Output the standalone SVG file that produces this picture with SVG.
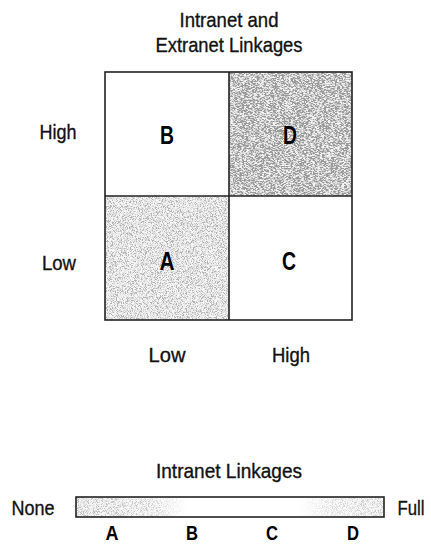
<svg xmlns="http://www.w3.org/2000/svg" width="431" height="545" viewBox="0 0 431 545">
  <style>
    .lbl { font-family: "Liberation Sans", Arial, sans-serif; font-size: 21px; fill: #111; stroke: #111; stroke-width: 0.35; }
    .cell { font-family: "Liberation Sans", Arial, sans-serif; font-size: 26px; font-weight: bold; fill: #000; text-anchor: middle; }
    .tick { font-family: "Liberation Sans", Arial, sans-serif; font-size: 21px; font-weight: bold; fill: #000; text-anchor: middle; }
    .frame { fill: none; stroke: #222; stroke-width: 1.6; }
  </style>
  <defs>
    <!-- fine stipple grain -->
    <filter id="grainA" x="0" y="0" width="100%" height="100%" filterUnits="objectBoundingBox">
      <feTurbulence type="fractalNoise" baseFrequency="1.2" numOctaves="2" seed="4" result="n"/>
      <feColorMatrix in="n" type="matrix" values="0 0 0 0 0  0 0 0 0 0  0 0 0 0 0  3 0 0 0 -1.1" result="a"/>
      <feComponentTransfer in="a" result="d">
        <feFuncA type="discrete" tableValues="0.08 0.2 0.35 0.55"/>
      </feComponentTransfer>
      <feFlood flood-color="#fff" result="w"/>
      <feMerge><feMergeNode in="w"/><feMergeNode in="d"/></feMerge>
    </filter>
    <!-- horizontal streaked grain -->
    <filter id="grainD" x="0" y="0" width="100%" height="100%" filterUnits="objectBoundingBox">
      <feTurbulence type="fractalNoise" baseFrequency="0.45 1.4" numOctaves="2" seed="9" result="n"/>
      <feColorMatrix in="n" type="matrix" values="0 0 0 0 0  0 0 0 0 0  0 0 0 0 0  3 0 0 0 -0.9" result="a"/>
      <feComponentTransfer in="a" result="d">
        <feFuncA type="discrete" tableValues="0.1 0.26 0.45 0.68"/>
      </feComponentTransfer>
      <feFlood flood-color="#fff" result="w"/>
      <feMerge><feMergeNode in="w"/><feMergeNode in="d"/></feMerge>
    </filter>
    <linearGradient id="barFade" x1="0" y1="0" x2="1" y2="0">
      <stop offset="0" stop-color="#fff" stop-opacity="0.9"/>
      <stop offset="0.26" stop-color="#fff" stop-opacity="0.6"/>
      <stop offset="0.36" stop-color="#fff" stop-opacity="0"/>
      <stop offset="0.72" stop-color="#fff" stop-opacity="0"/>
      <stop offset="0.84" stop-color="#fff" stop-opacity="0.5"/>
      <stop offset="1" stop-color="#fff" stop-opacity="0.7"/>
    </linearGradient>
    <mask id="barMask">
      <rect x="76" y="497" width="308" height="20" fill="url(#barFade)"/>
    </mask>
  </defs>

  <!-- title -->
  <g id="title">
    <text class="lbl" x="229" y="27" text-anchor="middle" textLength="99" lengthAdjust="spacingAndGlyphs">Intranet and</text>
    <text class="lbl" x="229" y="52" text-anchor="middle" textLength="147" lengthAdjust="spacingAndGlyphs">Extranet Linkages</text>
  </g>

  <!-- axis labels -->
  <g id="axis-labels">
    <text class="lbl" x="58" y="139" text-anchor="middle" textLength="37" lengthAdjust="spacingAndGlyphs">High</text>
    <text class="lbl" x="59" y="270" text-anchor="middle" textLength="34" lengthAdjust="spacingAndGlyphs">Low</text>
    <text class="lbl" x="167" y="362" text-anchor="middle" textLength="37" lengthAdjust="spacingAndGlyphs">Low</text>
    <text class="lbl" x="291" y="362" text-anchor="middle" textLength="38" lengthAdjust="spacingAndGlyphs">High</text>
  </g>

  <!-- quadrant cells -->
  <g id="cell-B">
    <rect x="105" y="72" width="124" height="124" fill="#fff"/>
    <text class="cell" x="167" y="144" textLength="14" lengthAdjust="spacingAndGlyphs">B</text>
  </g>
  <g id="cell-D">
    <rect x="229" y="72" width="123" height="124" fill="#fff" filter="url(#grainD)"/>
    <text class="cell" x="290" y="144" textLength="14" lengthAdjust="spacingAndGlyphs">D</text>
  </g>
  <g id="cell-A">
    <rect x="105" y="196" width="124" height="124" fill="#fff" filter="url(#grainA)"/>
    <text class="cell" x="167" y="270" textLength="15" lengthAdjust="spacingAndGlyphs">A</text>
  </g>
  <g id="cell-C">
    <rect x="229" y="196" width="123" height="124" fill="#fff"/>
    <text class="cell" x="289" y="270" textLength="14" lengthAdjust="spacingAndGlyphs">C</text>
  </g>

  <g id="grid-lines">
    <rect class="frame" x="105" y="72" width="247" height="248"/>
    <line class="frame" x1="229" y1="72" x2="229" y2="320"/>
    <line class="frame" x1="105" y1="196" x2="352" y2="196"/>
  </g>

  <!-- intranet linkage scale -->
  <g id="scale">
    <text class="lbl" x="229" y="478" text-anchor="middle" textLength="146" lengthAdjust="spacingAndGlyphs">Intranet Linkages</text>
    <text class="lbl" x="33" y="515" text-anchor="middle" textLength="43" lengthAdjust="spacingAndGlyphs">None</text>
    <text class="lbl" x="411" y="515" text-anchor="middle" textLength="27" lengthAdjust="spacingAndGlyphs">Full</text>
    <rect x="76" y="497" width="308" height="20" fill="#fff"/>
    <rect x="76" y="497" width="308" height="20" fill="#fff" filter="url(#grainA)" mask="url(#barMask)"/>
    <rect class="frame" x="76" y="497" width="308" height="20"/>
    <text class="tick" x="112" y="540" textLength="13" lengthAdjust="spacingAndGlyphs">A</text>
    <text class="tick" x="192" y="540" textLength="12" lengthAdjust="spacingAndGlyphs">B</text>
    <text class="tick" x="272" y="540" textLength="12" lengthAdjust="spacingAndGlyphs">C</text>
    <text class="tick" x="353" y="540" textLength="12" lengthAdjust="spacingAndGlyphs">D</text>
  </g>
</svg>
